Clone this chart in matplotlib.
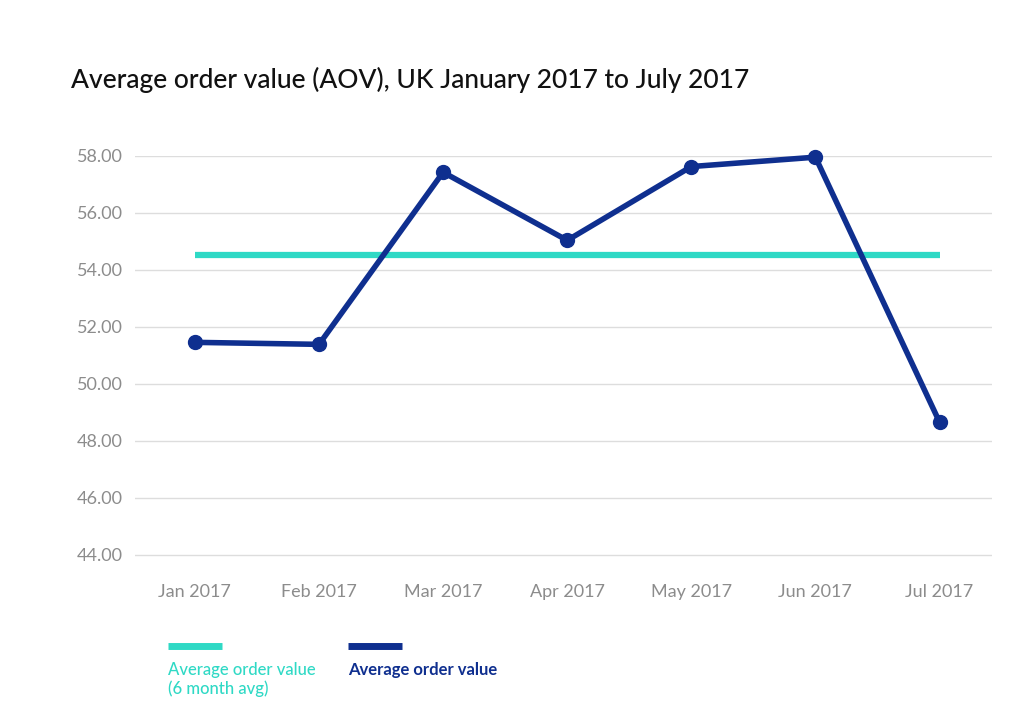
import numpy as np
import matplotlib.pyplot as plt

# data
months = ["Jan 2017", "Feb 2017", "Mar 2017", "Apr 2017", "May 2017", "Jun 2017", "Jul 2017"]
aov = [51.45, 51.38, 57.42, 55.03, 57.62, 57.95, 48.65]
aov_avg = [54.52] * 7
y_ticks = [44, 46, 48, 50, 52, 54, 56, 58]

teal = "#2fd9c5"
navy = "#0f2f8f"
grey = "#8c8c8c"

plt.rcParams["font.family"] = ["Lato", "DejaVu Sans"]

fig = plt.figure(figsize=(10.15, 7.21), dpi=100)
ax = fig.add_axes([0.133, 0.228, 0.844, 0.556])

x = np.arange(len(months))
ax.plot(x, aov_avg, color=teal, lw=4.5, solid_capstyle="butt", zorder=2)
ax.plot(x, aov, color=navy, lw=4, marker="o", markersize=10, zorder=3, clip_on=False)

ax.set_xlim(-0.483, 6.42)
ax.set_ylim(43.93, 58)
ax.set_yticks(y_ticks)
ax.set_yticklabels([f"{v:.2f}" for v in y_ticks])
ax.set_xticks(x)
ax.set_xticklabels(months)
ax.tick_params(axis="both", length=0, labelsize=13, colors=grey)
ax.tick_params(axis="y", pad=9)
ax.tick_params(axis="x", pad=20)
ax.grid(axis="y", color="#dddddd", lw=1)
ax.set_axisbelow(True)
for s in ax.spines.values():
    s.set_visible(False)

fig.text(0.070, 0.889, "Average order value (AOV), UK January 2017 to July 2017",
         fontsize=19, color="#111111", va="center", fontweight="medium")

# legend drawn by hand below the axis
fig.add_artist(plt.Line2D([0.1655, 0.219], [0.104, 0.104], color=teal, lw=5,
                          solid_capstyle="butt", transform=fig.transFigure))
fig.add_artist(plt.Line2D([0.343, 0.396], [0.104, 0.104], color=navy, lw=5,
                          solid_capstyle="butt", transform=fig.transFigure))
fig.text(0.1655, 0.082, "Average order value\n(6 month avg)", fontsize=12,
         color=teal, va="top", linespacing=1.2, fontweight="medium")
fig.text(0.343, 0.082, "Average order value", fontsize=12, color=navy,
         va="top", fontweight="bold")

fig.savefig("out.png", dpi=100)
